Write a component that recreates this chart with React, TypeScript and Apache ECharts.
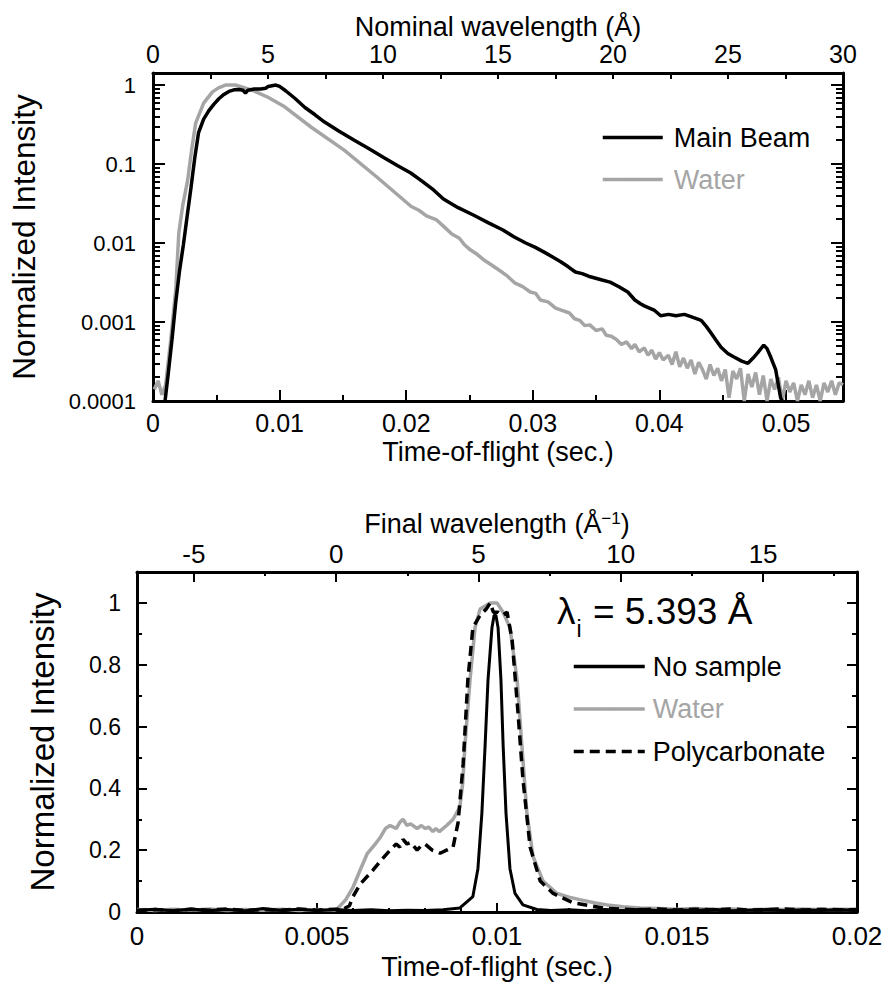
import React, { useEffect, useRef } from 'react';
import * as echarts from 'echarts';

const FONT = '"Liberation Sans", Arial, Helvetica, sans-serif';
const GRAY = '#a5a5a5';

// ---------- Top panel: time-of-flight spectra (log scale) ----------
const mainBeam: [number, number][] = [
  [0.00095, 0.0001], [0.0012, 0.00022], [0.0015, 0.0006], [0.0018, 0.0018], [0.0021, 0.0045],
  [0.0024, 0.0095], [0.0027, 0.022], [0.003, 0.05], [0.0033, 0.12], [0.0036, 0.25],
  [0.004, 0.37], [0.0044, 0.47], [0.0048, 0.57], [0.0052, 0.67], [0.0056, 0.76],
  [0.006, 0.83], [0.0064, 0.87], [0.0068, 0.88], [0.0071, 0.86], [0.0073, 0.79],
  [0.0075, 0.86], [0.008, 0.89], [0.0085, 0.89], [0.0089, 0.91], [0.0091, 0.96],
  [0.0094, 0.98], [0.0097, 1.0], [0.01, 0.96], [0.0105, 0.84], [0.0112, 0.68],
  [0.012, 0.52], [0.0128, 0.42], [0.01355, 0.34], [0.0147, 0.26], [0.0159, 0.2],
  [0.0171, 0.155], [0.01825, 0.12], [0.0193, 0.096], [0.02036, 0.077], [0.0213, 0.06],
  [0.02216, 0.047], [0.02294, 0.036], [0.0241, 0.028], [0.0253, 0.0226], [0.0265, 0.018],
  [0.02764, 0.0146], [0.0285, 0.012], [0.02944, 0.01], [0.0302, 0.0088], [0.031, 0.0075],
  [0.0316, 0.0066], [0.0322, 0.0058], [0.0328, 0.005], [0.03336, 0.0043], [0.0339, 0.0041],
  [0.0344, 0.0038], [0.03547, 0.0034], [0.0361, 0.0032], [0.0368, 0.0028], [0.0375, 0.0024],
  [0.03806, 0.0019], [0.0385, 0.0017], [0.0388, 0.0016], [0.03962, 0.0014], [0.0401, 0.0012],
  [0.04072, 0.00125], [0.0413, 0.0012], [0.04197, 0.00125], [0.0426, 0.00115], [0.0433, 0.00105],
  [0.0437, 0.00088], [0.04409, 0.00072], [0.0445, 0.00058], [0.04487, 0.00048], [0.0454, 0.0004],
  [0.04589, 0.00036], [0.0465, 0.00032], [0.04699, 0.0003], [0.0474, 0.00035], [0.04777, 0.00041],
  [0.04824, 0.00051], [0.0485, 0.00046], [0.04879, 0.00036], [0.04918, 0.00025], [0.04957, 0.00011],
  [0.05, 0.00008],
];

const waterTop: [number, number][] = [
  [0.0001, 0.00014], [0.0004, 0.00018], [0.0007, 0.00012], [0.001, 0.00016], [0.0014, 0.00059],
  [0.0018, 0.0026], [0.00204, 0.0135], [0.00235, 0.03], [0.00274, 0.063], [0.00305, 0.15],
  [0.00337, 0.33], [0.004, 0.59], [0.0047, 0.82], [0.00517, 0.92], [0.00572, 1.0],
  [0.0065, 1.0], [0.00783, 0.86], [0.00908, 0.7], [0.0104, 0.53], [0.01253, 0.29],
  [0.0151, 0.15], [0.0177, 0.068], [0.0198, 0.035], [0.0204, 0.029], [0.021, 0.026],
  [0.0216, 0.022], [0.0224, 0.0196], [0.023, 0.016], [0.0236, 0.013], [0.0242, 0.0115],
  [0.0246, 0.0095], [0.02506, 0.0082], [0.0256, 0.0072], [0.0262, 0.006], [0.0268, 0.0052],
  [0.02764, 0.0042], [0.028, 0.0038], [0.0286, 0.0031], [0.0292, 0.0028], [0.0298, 0.0024],
  [0.03023, 0.0023], [0.0306, 0.0019], [0.0312, 0.0018], [0.0318, 0.0015], [0.0323, 0.0014],
  [0.03289, 0.0013], [0.0333, 0.0011], [0.0337, 0.00105], [0.0341, 0.0009], [0.0345, 0.00092],
  [0.035, 0.00078], [0.03547, 0.00082], [0.0358, 0.00068], [0.0362, 0.00066], [0.0366, 0.0006],
  [0.037, 0.00052], [0.0374, 0.00056], [0.0378, 0.00046], [0.03806, 0.00052], [0.0384, 0.00042],
  [0.0388, 0.00047], [0.0391, 0.00038], [0.0394, 0.00044], [0.0397, 0.00034], [0.04, 0.00041],
  [0.0403, 0.00033], [0.0407, 0.00038], [0.041, 0.00029], [0.0413, 0.00042], [0.0416, 0.00027],
  [0.0419, 0.00035], [0.0422, 0.00026], [0.0425, 0.00033], [0.0428, 0.00022], [0.0431, 0.00031],
  [0.0434, 0.00025], [0.0437, 0.00019], [0.044, 0.00029], [0.0443, 0.00021], [0.0446, 0.00026],
  [0.0449, 0.00018], [0.0452, 0.00025], [0.0455, 0.00011], [0.0458, 0.00024], [0.0461, 0.00019],
  [0.0464, 0.00026], [0.0467, 0.0001], [0.047, 0.00022], [0.0473, 0.00015], [0.0476, 0.00023],
  [0.0479, 0.00012], [0.0482, 0.00021], [0.0485, 0.0001], [0.0488, 0.00019], [0.0491, 0.00014],
  [0.0494, 0.0002], [0.0497, 0.0001], [0.05, 0.00018], [0.0503, 0.00013], [0.0506, 0.00017],
  [0.0509, 0.0001], [0.0512, 0.00016], [0.0515, 0.00012], [0.0518, 0.00018], [0.0521, 0.00011],
  [0.0524, 0.00016], [0.0527, 0.0001], [0.053, 0.00017], [0.0533, 0.00013], [0.0536, 0.00018],
  [0.0539, 0.00012], [0.0542, 0.00017], [0.0545, 0.00016],
];

// ---------- Bottom panel: final spectra at lambda_i = 5.393 A ----------
const noSample: [number, number][] = [
  [0, 0.006], [0.0005, 0.009], [0.001, 0.004], [0.0015, 0.01], [0.002, 0.005], [0.0025, 0.008],
  [0.003, 0.004], [0.0035, 0.011], [0.004, 0.006], [0.0045, 0.009], [0.005, 0.005], [0.0055, 0.008],
  [0.006, 0.005], [0.0065, 0.007], [0.007, 0.004], [0.0075, 0.006], [0.008, 0.005], [0.0085, 0.007],
  [0.00897, 0.013], [0.00933, 0.05], [0.00947, 0.14], [0.00958, 0.32], [0.00967, 0.54],
  [0.00975, 0.75], [0.00986, 0.92], [0.00992, 0.96], [0.00997, 0.96], [0.01003, 0.92],
  [0.01011, 0.75], [0.01017, 0.54], [0.01025, 0.32], [0.01036, 0.14], [0.0105, 0.06],
  [0.01072, 0.023], [0.01111, 0.008], [0.0115, 0.005], [0.012, 0.007], [0.0125, 0.004],
  [0.013, 0.008], [0.0135, 0.005], [0.014, 0.009], [0.0145, 0.004], [0.015, 0.007],
  [0.0155, 0.005], [0.016, 0.009], [0.0165, 0.004], [0.017, 0.006], [0.0175, 0.008],
  [0.018, 0.004], [0.0185, 0.007], [0.019, 0.005], [0.0195, 0.008], [0.02, 0.005],
];

const waterBottom: [number, number][] = [
  [0, 0.008], [0.0005, 0.005], [0.001, 0.009], [0.0015, 0.006], [0.002, 0.01], [0.0025, 0.005],
  [0.003, 0.008], [0.0035, 0.006], [0.004, 0.009], [0.0045, 0.005], [0.005, 0.008], [0.0055, 0.006],
  [0.00558, 0.012], [0.0058, 0.04], [0.006, 0.08], [0.0062, 0.136], [0.0064, 0.19], [0.00662, 0.22],
  [0.00675, 0.24], [0.0069, 0.27], [0.00703, 0.28], [0.0072, 0.27], [0.0073, 0.29], [0.00739, 0.3],
  [0.0075, 0.28], [0.0076, 0.285], [0.00778, 0.27], [0.0079, 0.28], [0.008, 0.27], [0.0081, 0.275],
  [0.00822, 0.26], [0.0083, 0.27], [0.0084, 0.26], [0.0086, 0.28], [0.00878, 0.3], [0.00897, 0.34],
  [0.00905, 0.42], [0.00911, 0.54], [0.00925, 0.75], [0.00939, 0.92], [0.00953, 0.98],
  [0.00981, 1.0], [0.01, 1.0], [0.01017, 0.97], [0.01036, 0.92], [0.01056, 0.75], [0.01069, 0.54],
  [0.01083, 0.32], [0.011, 0.18], [0.01128, 0.1], [0.01167, 0.06], [0.012, 0.048], [0.0123, 0.04],
  [0.0127, 0.03], [0.01306, 0.023], [0.0135, 0.017], [0.01397, 0.013], [0.0145, 0.011],
  [0.015, 0.009], [0.0155, 0.011], [0.016, 0.008], [0.0165, 0.01], [0.017, 0.007], [0.0175, 0.009],
  [0.018, 0.008], [0.0185, 0.01], [0.019, 0.007], [0.0195, 0.009], [0.02, 0.008],
];

const polycarbonate: [number, number][] = [
  [0, 0.005], [0.0005, 0.008], [0.001, 0.004], [0.0015, 0.009], [0.002, 0.006], [0.0025, 0.01],
  [0.003, 0.005], [0.0035, 0.008], [0.004, 0.006], [0.0045, 0.01], [0.005, 0.006], [0.0055, 0.009],
  [0.0057, 0.008], [0.0059, 0.02], [0.006, 0.05], [0.0062, 0.09], [0.00656, 0.136], [0.0068, 0.17],
  [0.00703, 0.2], [0.0072, 0.22], [0.0073, 0.21], [0.00739, 0.235], [0.0075, 0.22], [0.0076, 0.225],
  [0.00778, 0.2], [0.0079, 0.215], [0.008, 0.22], [0.0082, 0.2], [0.00833, 0.195], [0.00842, 0.19],
  [0.0086, 0.2], [0.00878, 0.21], [0.00892, 0.29], [0.00906, 0.48], [0.00919, 0.75],
  [0.00933, 0.92], [0.00953, 0.96], [0.0097, 0.98], [0.00981, 1.0], [0.0099, 0.97],
  [0.01003, 0.97], [0.01015, 0.96], [0.01028, 0.97], [0.01042, 0.88], [0.01058, 0.65],
  [0.01072, 0.43], [0.01092, 0.21], [0.0112, 0.1], [0.01156, 0.06], [0.01211, 0.03],
  [0.0126, 0.02], [0.013, 0.012], [0.0135, 0.009], [0.014, 0.007], [0.0145, 0.01], [0.015, 0.006],
  [0.0155, 0.009], [0.016, 0.007], [0.0165, 0.01], [0.017, 0.006], [0.0175, 0.008], [0.018, 0.01],
  [0.0185, 0.006], [0.019, 0.009], [0.0195, 0.007], [0.02, 0.008],
];

// ---------- tick values ----------
const topTofTicks = [0, 0.01, 0.02, 0.03, 0.04, 0.05];
const topTofMinor = [0.005, 0.015, 0.025, 0.035, 0.045];
const logMajor = [0.0001, 0.001, 0.01, 0.1, 1];
const logMinor = [
  0.0002, 0.0003, 0.0004, 0.0005, 0.0006, 0.0007, 0.0008, 0.0009,
  0.002, 0.003, 0.004, 0.005, 0.006, 0.007, 0.008, 0.009,
  0.02, 0.03, 0.04, 0.05, 0.06, 0.07, 0.08, 0.09,
  0.2, 0.3, 0.4, 0.5, 0.6, 0.7, 0.8, 0.9,
];
const linMajor = [0, 0.2, 0.4, 0.6, 0.8, 1];
const linMinor = [0.1, 0.3, 0.5, 0.7, 0.9];
const finalWlMajor = [-5, 0, 5, 10, 15];
const finalWlMinor = [-2.5, 2.5, 7.5, 12.5, 17.5];

const fmt = (v: number) => String(Number(Number(v).toPrecision(4)));

const line3 = { show: true, onZero: false, lineStyle: { color: '#000', width: 3 } };
const noLine = { show: false, onZero: false };
const tickStyle = { color: '#000', width: 2 };
const lab = (size: number, margin: number, custom?: number[]) => ({
  show: true, fontSize: size, fontFamily: FONT, color: '#000', margin, formatter: fmt,
  ...(custom ? { customValues: custom } : {}),
});
const nameStyle = (size: number) => ({ fontSize: size, fontFamily: FONT, color: '#000' });

export default function App() {
  const ref = useRef<HTMLDivElement>(null);
  useEffect(() => {
    document.body.style.margin = '0';
    const chart = echarts.init(ref.current!, null, { renderer: 'svg' });
    const option: any = {
      animation: false,
      backgroundColor: '#fff',
      grid: [
        { left: 147, top: 73, width: 696, height: 328 },
        { left: 137, top: 572, width: 720, height: 340 },
      ],
      xAxis: [
        { // 0: top panel, TOF
          gridIndex: 0, type: 'value', position: 'bottom', min: 0, max: 0.0545,
          axisLine: line3, splitLine: { show: false },
          axisTick: { show: true, inside: true, length: 11, lineStyle: tickStyle, customValues: topTofTicks },
          axisLabel: lab(25, 9, topTofTicks),
          name: 'Time-of-flight (sec.)', nameLocation: 'middle', nameGap: 37, nameTextStyle: nameStyle(27),
        },
        { // 1: top panel, TOF minor ticks
          gridIndex: 0, type: 'value', position: 'bottom', min: 0, max: 0.0545,
          axisLine: noLine, splitLine: { show: false },
          axisTick: { show: true, inside: true, length: 6, lineStyle: tickStyle, customValues: topTofMinor },
          axisLabel: { show: false },
        },
        { // 2: top panel, nominal wavelength
          gridIndex: 0, type: 'value', position: 'top', min: 0, max: 30, interval: 5,
          axisLine: line3, splitLine: { show: false },
          axisTick: { show: true, inside: true, length: 6, lineStyle: tickStyle },
          minorTick: { show: true, splitNumber: 2, length: 6, lineStyle: tickStyle },
          axisLabel: lab(25, 7),
          name: 'Nominal wavelength (Å)', nameLocation: 'middle', nameGap: 33, nameTextStyle: nameStyle(27),
        },
        { // 3: bottom panel, TOF
          gridIndex: 1, type: 'value', position: 'bottom', min: 0, max: 0.02, interval: 0.005,
          axisLine: line3, splitLine: { show: false },
          axisTick: { show: true, inside: true, length: 9, lineStyle: tickStyle },
          minorTick: { show: true, splitNumber: 5, length: 4, lineStyle: tickStyle },
          axisLabel: lab(26, 11),
          name: 'Time-of-flight (sec.)', nameLocation: 'middle', nameGap: 41, nameTextStyle: nameStyle(27),
        },
        { // 4: bottom panel, final wavelength
          gridIndex: 1, type: 'value', position: 'top', min: -7, max: 18.3,
          axisLine: line3, splitLine: { show: false },
          axisTick: { show: true, inside: true, length: 10, lineStyle: tickStyle, customValues: finalWlMajor },
          axisLabel: lab(26, 5, finalWlMajor),
          name: 'Final wavelength (Å{sup|−1})', nameLocation: 'middle', nameGap: 35,
          nameTextStyle: { ...nameStyle(27), rich: { sup: { fontSize: 17, fontFamily: FONT, color: '#000', verticalAlign: 'top' } } },
        },
        { // 5: bottom panel, final wavelength minor ticks
          gridIndex: 1, type: 'value', position: 'top', min: -7, max: 18.3,
          axisLine: noLine, splitLine: { show: false },
          axisTick: { show: true, inside: true, length: 4, lineStyle: tickStyle, customValues: finalWlMinor },
          axisLabel: { show: false },
        },
      ],
      yAxis: [
        { // 0: top panel left, log
          gridIndex: 0, type: 'log', logBase: 10, position: 'left', min: 0.0001, max: 1.42,
          axisLine: line3, splitLine: { show: false },
          axisTick: { show: true, inside: true, length: 12, lineStyle: tickStyle, customValues: logMajor },
          axisLabel: lab(22, 17, logMajor),
          name: 'Normalized Intensity', nameLocation: 'middle', nameGap: 113, nameTextStyle: nameStyle(31.5),
        },
        { // 1: top panel left minor
          gridIndex: 0, type: 'log', logBase: 10, position: 'left', min: 0.0001, max: 1.42,
          axisLine: noLine, splitLine: { show: false },
          axisTick: { show: true, inside: true, length: 7, lineStyle: tickStyle, customValues: logMinor },
          axisLabel: { show: false },
        },
        { // 2: top panel right
          gridIndex: 0, type: 'log', logBase: 10, position: 'right', min: 0.0001, max: 1.42,
          axisLine: line3, splitLine: { show: false },
          axisTick: { show: true, inside: true, length: 12, lineStyle: tickStyle, customValues: logMajor },
          axisLabel: { show: false },
        },
        { // 3: top panel right minor
          gridIndex: 0, type: 'log', logBase: 10, position: 'right', min: 0.0001, max: 1.42,
          axisLine: noLine, splitLine: { show: false },
          axisTick: { show: true, inside: true, length: 7, lineStyle: tickStyle, customValues: logMinor },
          axisLabel: { show: false },
        },
        { // 4: bottom panel left
          gridIndex: 1, type: 'value', position: 'left', min: 0, max: 1.1,
          axisLine: line3, splitLine: { show: false },
          axisTick: { show: true, inside: true, length: 10, lineStyle: tickStyle, customValues: linMajor },
          axisLabel: lab(23, 16, linMajor),
          name: 'Normalized Intensity', nameLocation: 'middle', nameGap: 78, nameTextStyle: nameStyle(33),
        },
        { // 5: bottom panel left minor
          gridIndex: 1, type: 'value', position: 'left', min: 0, max: 1.1,
          axisLine: noLine, splitLine: { show: false },
          axisTick: { show: true, inside: true, length: 5, lineStyle: tickStyle, customValues: linMinor },
          axisLabel: { show: false },
        },
        { // 6: bottom panel right
          gridIndex: 1, type: 'value', position: 'right', min: 0, max: 1.1,
          axisLine: line3, splitLine: { show: false },
          axisTick: { show: true, inside: true, length: 10, lineStyle: tickStyle, customValues: linMajor },
          axisLabel: { show: false },
        },
        { // 7: bottom panel right minor
          gridIndex: 1, type: 'value', position: 'right', min: 0, max: 1.1,
          axisLine: noLine, splitLine: { show: false },
          axisTick: { show: true, inside: true, length: 5, lineStyle: tickStyle, customValues: linMinor },
          axisLabel: { show: false },
        },
      ],
      legend: [
        {
          left: 601, top: 124, orient: 'vertical', padding: 0, itemWidth: 60, itemHeight: 3, itemGap: 15,
          selectedMode: false, lineStyle: { width: 3.5 },
          textStyle: { fontSize: 27, fontFamily: FONT, color: '#000', padding: [0, 0, 0, 6] },
          data: [
            { name: 'Main Beam', textStyle: { color: '#000' } },
            { name: 'Water', textStyle: { color: GRAY } },
          ],
        },
        {
          left: 572, top: 653, orient: 'vertical', padding: 0, itemWidth: 71, itemHeight: 3, itemGap: 15.5,
          selectedMode: false, lineStyle: { width: 3.5 },
          textStyle: { fontSize: 27, fontFamily: FONT, color: '#000', padding: [0, 0, 0, 3] },
          data: [
            { name: 'No sample', textStyle: { color: '#000' } },
            { name: 'Water', textStyle: { color: GRAY } },
            { name: 'Polycarbonate', textStyle: { color: '#000' } },
          ],
        },
      ],
      graphic: [
        {
          type: 'text', left: 557, top: 593, z: 100,
          style: {
            text: 'λ{i|i} = 5.393 Å',
            fontSize: 37, fontFamily: FONT, fill: '#000',
            rich: { i: { fontSize: 23, fontFamily: FONT, fill: '#000', padding: [34, 1, 0, 1] } },
          },
        },
      ],
      series: [
        {
          name: 'Water', type: 'line', xAxisIndex: 0, yAxisIndex: 0, data: waterTop,
          showSymbol: false, symbol: 'none', lineStyle: { color: GRAY, width: 3.5 }, itemStyle: { color: GRAY },
        },
        {
          name: 'Main Beam', type: 'line', xAxisIndex: 0, yAxisIndex: 0, data: mainBeam,
          showSymbol: false, symbol: 'none', lineStyle: { color: '#000', width: 3.5 }, itemStyle: { color: '#000' },
        },
        {
          name: 'Water', type: 'line', xAxisIndex: 3, yAxisIndex: 4, data: waterBottom,
          showSymbol: false, symbol: 'none', lineStyle: { color: GRAY, width: 3.5 }, itemStyle: { color: GRAY },
        },
        {
          name: 'Polycarbonate', type: 'line', xAxisIndex: 3, yAxisIndex: 4, data: polycarbonate,
          showSymbol: false, symbol: 'none', lineStyle: { color: '#000', width: 3.5, type: [10, 6] }, itemStyle: { color: '#000' },
        },
        {
          name: 'No sample', type: 'line', xAxisIndex: 3, yAxisIndex: 4, data: noSample,
          showSymbol: false, symbol: 'none', lineStyle: { color: '#000', width: 3 }, itemStyle: { color: '#000' },
        },
      ],
    };
    chart.setOption(option);
    return () => chart.dispose();
  }, []);
  return <div ref={ref} style={{ width: 888, height: 983 }} />;
}
